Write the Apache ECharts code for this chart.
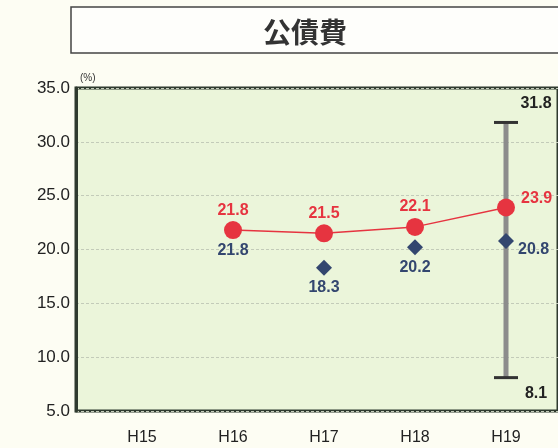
<!DOCTYPE html>
<html>
<head>
<meta charset="utf-8">
<script src="https://cdn.jsdelivr.net/npm/echarts@6/dist/echarts.min.js"></script>
<style>
  html, body { margin: 0; padding: 0; background: #fdfdf3; overflow: hidden; }
  #chart { width: 558px; height: 448px; }
</style>
</head>
<body>
<div id="chart"></div>
<script>
;(function() {
    // data
    var years = ['H15', 'H16', 'H17', 'H18', 'H19'];
    var ownValues = [null, 21.8, 21.5, 22.1, 23.9];       // red line
    var avgValues = [null, 21.8, 18.3, 20.2, 20.8];       // blue diamonds
    var rangeValues = [['H19', 8.1, 31.8]];               // min / max bar
    var yTicks = { min: 5, max: 35, interval: 5 };

    var red = '#e63440';
    var blue = '#33466f';
    var labelFont = 'Liberation Sans';

    var chart = echarts.init(document.getElementById('chart'));

    var option = {
        backgroundColor: '#fdfdf3',
        animation: false,
        title: {
            text: '公債費',
            left: 300,
            top: 13,
            textAlign: 'center',
            textStyle: {
                fontFamily: 'Noto Sans CJK JP',
                fontSize: 28,
                fontWeight: 'bold',
                color: '#333'
            }
        },
        graphic: [{
            type: 'rect',
            z: -1,
            silent: true,
            shape: { x: 71, y: 7, width: 900, height: 46 },
            style: { fill: '#fefefb', stroke: '#444', lineWidth: 1.5 }
        }],
        grid: [
            {   // frame, background and y scale
                left: 76, top: 88, bottom: 37, right: -300,
                show: true,
                backgroundColor: '#ebf5da',
                borderColor: '#2f3a2f',
                borderWidth: 3
            },
            {   // category positions
                left: 96.5, top: 88, bottom: 37, width: 455
            }
        ],
        xAxis: [
            { gridIndex: 0, type: 'value', show: false },
            {
                gridIndex: 1,
                type: 'category',
                data: years,
                boundaryGap: true,
                axisLine: { show: false },
                axisTick: { show: false },
                axisLabel: {
                    margin: 19,
                    fontFamily: labelFont,
                    fontSize: 16,
                    color: '#222'
                }
            }
        ],
        yAxis: [
            {
                gridIndex: 0,
                type: 'value',
                min: yTicks.min,
                max: yTicks.max,
                interval: yTicks.interval,
                name: '(%)',
                nameLocation: 'end',
                nameGap: 5,
                nameTextStyle: { fontSize: 10, color: '#333', align: 'left', padding: [0, 0, 0, 4] },
                axisLine: { show: true, lineStyle: { color: '#2f3a2f', width: 3 } },
                axisTick: { show: false },
                axisLabel: {
                    margin: 6,
                    fontFamily: labelFont,
                    fontSize: 17,
                    color: '#222',
                    formatter: function (v) { return v.toFixed(1); }
                },
                splitLine: { lineStyle: { color: '#c3cbb9', type: [3, 2], width: 1 } }
            },
            {
                gridIndex: 1,
                type: 'value',
                min: yTicks.min,
                max: yTicks.max,
                show: false,
                splitLine: { show: false }
            }
        ],
        series: [
            {
                type: 'custom',
                xAxisIndex: 1,
                yAxisIndex: 1,
                z: 1,
                encode: { x: 0, y: [1, 2] },
                data: rangeValues,
                renderItem: function (params, api) {
                    var x = api.value(0);
                    var top = api.coord([x, api.value(2)]);
                    var bot = api.coord([x, api.value(1)]);
                    var capStyle = { stroke: '#333', lineWidth: 3 };
                    var txt = { fill: '#222', font: 'bold 16px Liberation Sans', align: 'center', verticalAlign: 'middle' };
                    return {
                        type: 'group',
                        children: [
                            { type: 'line', shape: { x1: top[0], y1: top[1], x2: bot[0], y2: bot[1] },
                              style: { stroke: '#8c8c8c', lineWidth: 5 } },
                            { type: 'line', shape: { x1: top[0] - 12, y1: top[1], x2: top[0] + 12, y2: top[1] }, style: capStyle },
                            { type: 'line', shape: { x1: bot[0] - 12, y1: bot[1], x2: bot[0] + 12, y2: bot[1] }, style: capStyle },
                            { type: 'text', style: Object.assign({ text: api.value(2).toFixed(1), x: top[0] + 30, y: top[1] - 19 }, txt) },
                            { type: 'text', style: Object.assign({ text: api.value(1).toFixed(1), x: bot[0] + 30, y: bot[1] + 16 }, txt) }
                        ]
                    };
                }
            },
            {
                type: 'scatter',
                xAxisIndex: 1,
                yAxisIndex: 1,
                z: 2,
                symbol: 'diamond',
                symbolSize: [16, 16],
                itemStyle: { color: blue, opacity: 1 },
                data: avgValues.map(function (v, i) {
                    var d = { value: v };
                    if (i === years.length - 1) {
                        d.label = { position: 'right', distance: 4, offset: [0, 9] };
                    }
                    return d;
                }),
                label: {
                    show: true,
                    position: 'bottom',
                    distance: 4,
                    fontFamily: labelFont,
                    fontWeight: 'bold',
                    fontSize: 16,
                    color: blue,
                    opacity: 1,
                    formatter: function (p) { return p.value.toFixed(1); }
                }
            },
            {
                type: 'line',
                xAxisIndex: 1,
                yAxisIndex: 1,
                z: 3,
                symbol: 'circle',
                symbolSize: 18,
                itemStyle: { color: red },
                lineStyle: { color: red, width: 1.5 },
                data: ownValues.map(function (v, i) {
                    var d = { value: v };
                    if (i === years.length - 1) {
                        d.label = { position: 'right', distance: 6, offset: [0, -9] };
                    }
                    return d;
                }),
                label: {
                    show: true,
                    position: 'top',
                    distance: 3,
                    fontFamily: labelFont,
                    fontWeight: 'bold',
                    fontSize: 16,
                    color: red,
                    formatter: function (p) { return p.value.toFixed(1); }
                }
            }
        ]
    };

    chart.setOption(option);
})()
</script>
</body>
</html>
